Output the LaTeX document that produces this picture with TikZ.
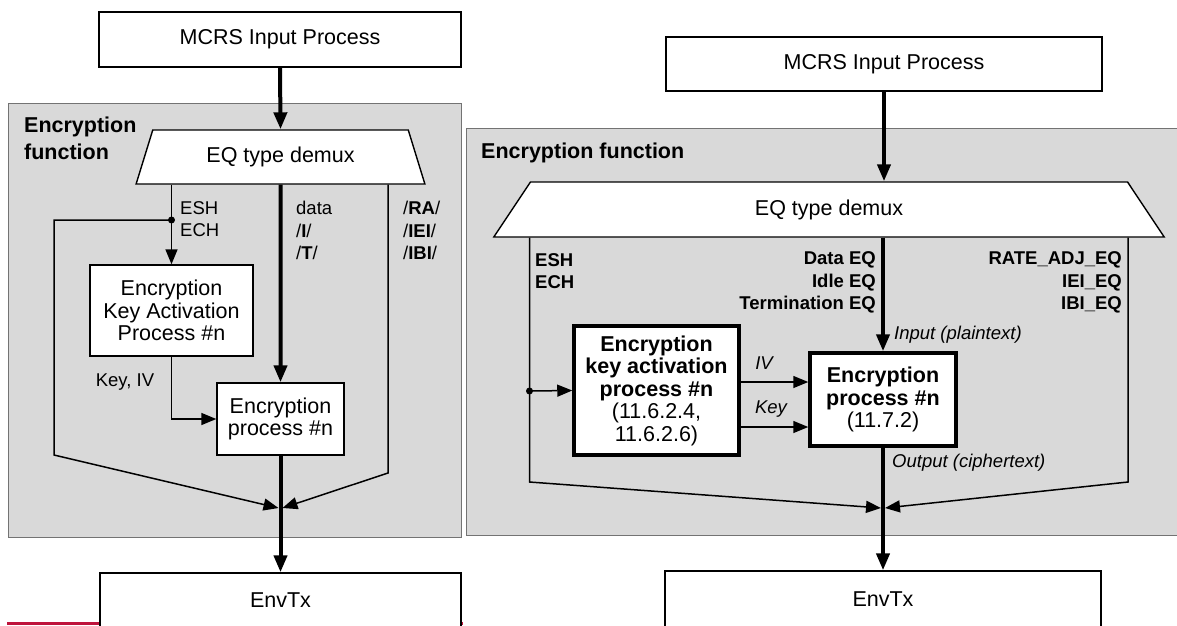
\documentclass[tikz,border=0pt]{standalone}
\usepackage{fontspec}
\setmainfont{Liberation Sans}
\usepackage{tikz}
\usetikzlibrary{arrows.meta, shapes.geometric, calc}
\usepackage{xcolor}
\definecolor{panelgray}{RGB}{217,217,217}
\definecolor{edgered}{RGB}{190,20,60}
\newcommand\boxfont{\fontsize{21.5}{22.5}\selectfont}
\newcommand\lblfont{\fontsize{18.5}{22.5}\selectfont}

\begin{document}
\begin{tikzpicture}[x=1pt, y=-1pt,
  box/.style={draw, fill=white, line width=1.4pt, font=\boxfont, align=center, inner sep=0pt},
  heavybox/.style={box, line width=3.5pt},
  panel/.style={draw=black!55, fill=panelgray, line width=1pt, inner sep=0pt},
  demux/.style={trapezium, trapezium stretches=true, draw, fill=white, line width=1.4pt, font=\boxfont, inner sep=0pt},
  wire/.style={line width=1.5pt},
  bus/.style={line width=4pt},
  wtip/.style={wire, -{Triangle[length=15pt, width=12pt]}},
  btip/.style={bus, -{Triangle[length=17pt, width=13pt]}},
  lbl/.style={font=\lblfont, inner sep=0pt},
  dot/.style={circle, fill, inner sep=0pt, minimum size=7pt},
  title/.style={font=\fontsize{21.5}{27}\selectfont\bfseries, align=left, inner sep=0pt},
]
  \useasboundingbox (0,0) rectangle (1177,625);
  \clip (0,0) rectangle (1177,625);

  % left figure
  \draw[edgered, line width=2.5pt] (7,623.5) -- (463,623.5);
  \node[panel, minimum width=453pt, minimum height=434pt] (fnL) at (234.5,320) {};
  \node[title, anchor=west] (fnLtitle) at (24,138.5) {Encryption\\function};
  \node[box, minimum width=362pt, minimum height=55pt] (mcrsL) at (280,39.5) {MCRS Input Process};
  \node[demux, trapezium angle=64.3, minimum width=289pt, minimum height=54pt] (dmxL) at (280.5,157) {EQ type demux};
  \node[box, minimum width=163pt, minimum height=91pt] (keyL) at (171.5,310.5) {Encryption\\Key Activation\\Process \#n};
  \node[box, minimum width=127pt, minimum height=72pt] (encL) at (280.5,419) {Encryption\\process \#n};
  \node[box, minimum width=361pt, minimum height=54pt] (envL) at (280.5,600) {EnvTx};
  \node[dot] (dotL) at (171.5,220) {};
  \coordinate (mergeL) at (280.5,508);
  \coordinate (loopL) at (54,455);
  \coordinate (sideL) at (388,473);

  \draw[btip] (mcrsL.south) -- (dmxL.north);
  \draw[btip] (dmxL.south) -- (encL.north);
  \draw[btip] (encL.south) -- (envL.north);
  \draw[wtip] (dmxL.south -| keyL.north) -- (keyL.north);
  \draw[wtip] (keyL.south) |- (encL.west);
  \draw[wtip] (dotL.center) -| (loopL) -- ([xshift=-2pt]mergeL);
  \draw[wtip] (dmxL.south -| sideL) -- (sideL) -- ([xshift=2pt]mergeL);

  \foreach \t [count=\i] in {ESH,ECH}
    \node[lbl, anchor=west] (ctlL\i) at (180,{208+22.5*(\i-1)}) {\t};
  \foreach \t [count=\i] in {data,{/\textbf{I}/},{/\textbf{T}/}}
    \node[lbl, anchor=west] (datL\i) at (296,{208+22.5*(\i-1)}) {\t};
  \foreach \t [count=\i] in {{/\textbf{RA}/},{/\textbf{IEI}/},{/\textbf{IBI}/}}
    \node[lbl, anchor=west] (idlL\i) at (403,{208+22.5*(\i-1)}) {\t};
  \node[lbl] (kivL) at (125,382) {Key, IV};

  % right figure
  \node[panel, minimum width=724pt, minimum height=407pt] (fnR) at (828,331.5) {};
  \node[title, anchor=west] (fnRtitle) at (481,153) {Encryption function};
  \node[box, minimum width=436pt, minimum height=54pt] (mcrsR) at (884,64) {MCRS Input Process};
  \node[demux, trapezium angle=65.6, minimum width=672pt, minimum height=55pt] (dmxR) at (829,209.5) {EQ type demux};
  \node[heavybox, minimum width=165pt, minimum height=129pt] (keyR) at (656.5,390.5)
    {\textbf{Encryption}\\\textbf{key activation}\\\textbf{process \#n}\\(11.6.2.4,\\11.6.2.6)};
  \node[heavybox, minimum width=146pt, minimum height=93pt] (encR) at (883,399.5)
    {\textbf{Encryption}\\\textbf{process \#n}\\(11.7.2)};
  \node[box, minimum width=436pt, minimum height=56pt] (envR) at (883,599) {EnvTx};
  \node[dot] (dotR) at (529.5,391) {};
  \coordinate (mergeR) at (883,508);
  \coordinate (loopR) at (529.5,482);
  \coordinate (sideR) at (1128,482);
  \coordinate (ivRow) at (0,382);
  \coordinate (keyRow) at (0,427);

  \draw[btip] (mcrsR.south) -- (mcrsR.south |- dmxR.north);
  \draw[btip] (dmxR.south -| encR.north) -- (encR.north);
  \draw[btip] (encR.south) -- (envR.north);
  \draw[wtip] (dmxR.south -| loopR) -- (loopR) -- ([xshift=-2pt]mergeR);
  \draw[wtip] (dmxR.south -| sideR) -- (sideR) -- ([xshift=2pt]mergeR);
  \draw[wtip] (dotR.center) -- (keyR.west);
  \draw[wtip] (keyR.east |- ivRow) -- (encR.west |- ivRow);
  \draw[wtip] (keyR.east |- keyRow) -- (encR.west |- keyRow);

  \foreach \t [count=\i] in {ESH,ECH}
    \node[lbl, font=\lblfont\bfseries, anchor=west] (ctlR\i) at (535,{260+22.5*(\i-1)}) {\t};
  \foreach \t [count=\i] in {Data EQ,Idle EQ,Termination EQ}
    \node[lbl, font=\lblfont\bfseries, anchor=east] (datR\i) at (876,{260+22.5*(\i-1)}) {\t};
  \foreach \t [count=\i] in {RATE\_ADJ\_EQ,IEI\_EQ,IBI\_EQ}
    \node[lbl, font=\lblfont\bfseries, anchor=east] (idlR\i) at (1122,{260+22.5*(\i-1)}) {\t};
  \node[lbl, font=\lblfont\itshape] (ivR) at (764,363) {IV};
  \node[lbl, font=\lblfont\itshape] (kyR) at (771,409) {Key};
  \node[lbl, font=\lblfont\itshape, anchor=west] (inR) at (894,335) {Input (plaintext)};
  \node[lbl, font=\lblfont\itshape, anchor=west] (outR) at (892,463) {Output (ciphertext)};
\end{tikzpicture}
\end{document}
